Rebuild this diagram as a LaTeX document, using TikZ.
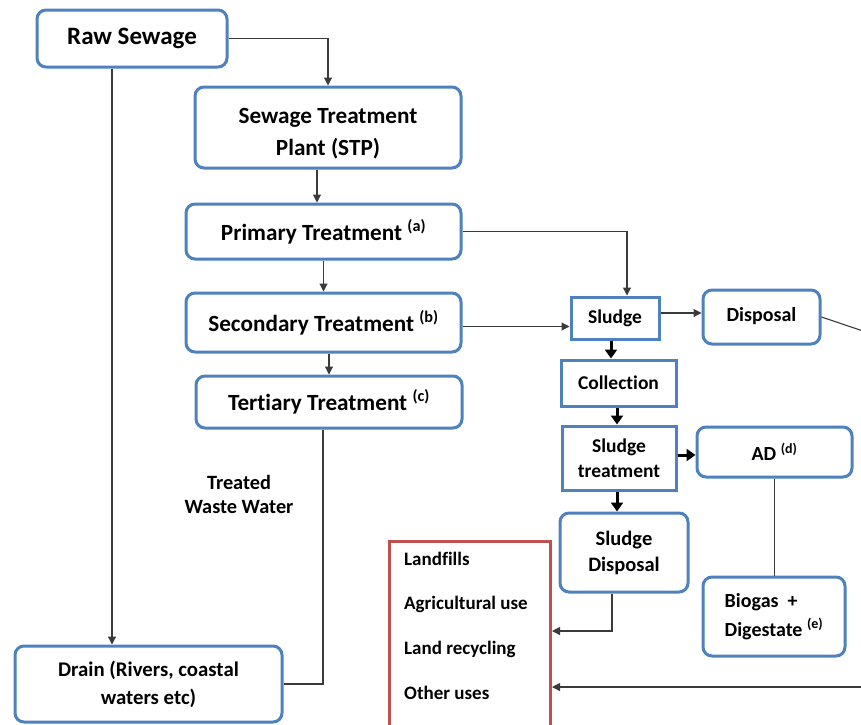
\documentclass[tikz,border=0pt]{standalone}
\usepackage{fontspec}
\setmainfont{Carlito}[Ligatures=NoCommon]
\usetikzlibrary{arrows.meta}
\definecolor{boxblue}{HTML}{4F81BD}
\definecolor{boxred}{HTML}{C0504D}
\definecolor{linegray}{HTML}{3A3A3A}
\tikzset{
  rbox/.style={draw=boxblue, line width=3pt, rounded corners=9pt, fill=white, align=center, inner sep=0pt,
    font=\bfseries\fontsize{23.2}{32}\selectfont},
  sbox/.style={draw=boxblue, line width=3pt, fill=white, align=center, inner sep=0pt,
    font=\bfseries\fontsize{19.5}{25}\selectfont},
  redbox/.style={draw=boxred, line width=3pt, fill=white, inner sep=0pt},
  itemtxt/.style={anchor=west, inner sep=0pt, font=\bfseries\fontsize{19}{22}\selectfont},
  thinarrow/.style={draw=linegray, line width=1.1pt, -{Triangle[width=8pt,length=8pt]}},
  thinline/.style={draw=linegray, line width=1.1pt},
  thickarrow/.style={draw=black, line width=3pt, -{Triangle[width=12pt,length=9pt]}},
}
\begin{document}
\begin{tikzpicture}[x=1pt,y=-1pt]
\useasboundingbox (0,0) rectangle (861,724);
\clip (0,0) rectangle (861,724);
% left column
\node[rbox, minimum width=190, minimum height=57, font=\bfseries\fontsize{25}{28}\selectfont] (raw) at (132,38.5) {Raw Sewage};
\node[rbox, minimum width=266, minimum height=81] (stp) at (328,127.5) {\rule{0pt}{27pt}Sewage Treatment\\Plant (STP)};
\node[rbox, minimum width=275, minimum height=55] (prim) at (323.5,231.5) {Primary Treatment \textsuperscript{(a)}};
\node[rbox, minimum width=275, minimum height=59] (sec) at (323.5,322.5) {Secondary Treatment \textsuperscript{(b)}};
\node[rbox, minimum width=266, minimum height=52] (tert) at (329,402) {Tertiary Treatment \textsuperscript{(c)}};
\node[rbox, minimum width=267, minimum height=76, font=\bfseries\fontsize{20.8}{28}\selectfont] (drain) at (148.5,684) {Drain (Rivers, coastal\\waters etc)};
\node[align=center, inner sep=0pt, font=\bfseries\fontsize{20.3}{24}\selectfont] (tww) at (239,494) {Treated\\Waste Water};
% right column
\node[sbox, minimum width=88, minimum height=42] (sludge) at (615,318) {Sludge};
\node[rbox, minimum width=117, minimum height=54, font=\bfseries\fontsize{20}{25}\selectfont] (disp) at (761.5,317) {\raisebox{5pt}{Disposal}};
\node[sbox, minimum width=115, minimum height=46] (coll) at (618.5,383) {Collection};
\node[sbox, minimum width=114, minimum height=64] (streat) at (619,458) {Sludge\\treatment};
\node[rbox, minimum width=155, minimum height=50, font=\bfseries\fontsize{20}{25}\selectfont] (ad) at (774.5,452) {AD \textsuperscript{(d)}};
\node[rbox, minimum width=128, minimum height=79, font=\bfseries\fontsize{20.5}{26}\selectfont] (sdisp) at (624,552.5) {Sludge\\Disposal};
\node[rbox, minimum width=142, minimum height=79, align=left, font=\bfseries\fontsize{20}{29}\selectfont] (bio) at (774,616.5) {Biogas~~+\\Digestate \textsuperscript{(e)}};
% red box with uses
\node[redbox, anchor=north west, minimum width=161, minimum height=200] (uses) at (388,540) {};
\node[itemtxt] (lf) at (404,559) {Landfills};
\node[itemtxt] (ag) at (404,604) {Agricultural use};
\node[itemtxt] (lr) at (404,649) {Land recycling};
\node[itemtxt] (ou) at (404,693) {Other uses};
% off-page connector ends
\coordinate (offA) at (863,331);
\coordinate (offB) at (863,687);
\coordinate (sdturn) at (612,631);
% connectors
\draw[thinarrow] (raw.east) -- (raw.east -| stp.north) -- (stp.north);
\draw[thinarrow] ([xshift=-20pt]raw.south) -- ([xshift=-20pt]raw.south |- drain.north);
\draw[thinarrow] ([xshift=-11pt]stp.south) -- ([xshift=-11pt]stp.south |- prim.north);
\draw[thinarrow] (prim.south) -- (sec.north);
\draw[thinarrow] (sec.south -| tert.north) -- (tert.north);
\draw[thinarrow] (prim.east) -- ([xshift=12pt]prim.east -| sludge.north) -- ([xshift=12pt]sludge.north);
\draw[thinarrow] ([yshift=-4pt]sec.east) -- ([yshift=-4pt]sec.east -| sludge.west);
\draw[thinarrow] ([yshift=5pt]sludge.east) -- ([yshift=5pt]sludge.east -| disp.west);
\draw[thickarrow] ([xshift=-4pt]sludge.south) -- ([xshift=-4pt]sludge.south |- coll.north);
\draw[thickarrow] ([xshift=-1.5pt]coll.south) -- ([xshift=-1.5pt]coll.south |- streat.north);
\draw[thickarrow] ([yshift=3pt]streat.east) -- ([yshift=3pt]streat.east -| ad.west);
\draw[thickarrow] ([xshift=-2pt]streat.south) -- ([xshift=-2pt]streat.south |- sdisp.north);
\draw[thinline] (ad.south) -- (ad.south |- bio.north);
\draw[thinline] (disp.east) -- (offA);
\draw[thinarrow] (offB) -- (offB -| uses.east);
\draw[thinarrow] (sdturn |- sdisp.south) -- (sdturn) -- (sdturn -| uses.east);
\draw[thinline] ([xshift=-6pt]tert.south) -- ([xshift=-6pt]tert.south |- drain.east) -- (drain.east);
\end{tikzpicture}
\end{document}
